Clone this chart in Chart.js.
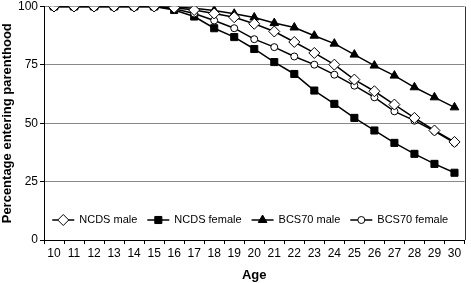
<!DOCTYPE html>
<html>
<head>
<meta charset="utf-8">
<script src="https://cdn.jsdelivr.net/npm/chart.js@4.4.1/dist/chart.umd.min.js"></script>
<style>
  html, body { margin: 0; padding: 0; background: #fff; }
  #wrap { width: 471px; height: 283px; }
</style>
</head>
<body>
<div id="wrap"><canvas id="chart"></canvas></div>
<script>
const ages = ['10', '11', '12', '13', '14', '15', '16', '17', '18', '19', '20',
  '21', '22', '23', '24', '25', '26', '27', '28', '29', '30']

const ncdsMale = [100, 100, 100, 100, 100, 100, 99.5, 98.5, 97, 95.4, 92.6,
  89.3, 84.8, 80.1, 75.1, 68.7, 63.7, 58, 52.3, 46.9, 42]
const ncdsFemale = [100, 100, 100, 100, 100, 100, 98.5, 95.7, 90.7, 86.9, 81.8,
  76.2, 71.1, 64, 58.3, 52.3, 46.9, 41.6, 36.9, 32.6, 28.8]
const bcsMale = [100, 100, 100, 100, 100, 100, 99.8, 99.2, 98.3, 96.9, 95.3,
  92.9, 91, 87.5, 84.1, 79.4, 74.7, 70.4, 65.4, 61.1, 56.8]
const bcsFemale = [100, 100, 100, 100, 100, 100, 99, 97, 94, 90.7, 86,
  82.6, 78.6, 75.1, 70.8, 66.1, 61.1, 55.1, 51.1, 46.6, 41.6]

const yTicks = [0, 25, 50, 75, 100]

const FONT = 'Liberation Sans, Arial, sans-serif'

// little helper so every series looks the same apart from the marker
const series = (label, data, style, radius, fill, order) => ({
  label: label,
  data: data,
  borderColor: '#000',
  borderWidth: 1.5,
  pointStyle: style,
  pointRadius: radius,
  pointHoverRadius: radius,
  pointBackgroundColor: fill,
  pointBorderColor: '#000',
  pointBorderWidth: 1,
  tension: 0,
  order: order
})

// legend sits inside the plot, above the x axis, like the original
const insideLegend = {
  id: 'insideLegend',
  afterDraw(chart) {
    const ctx = chart.ctx
    const area = chart.chartArea
    ctx.save()
    ctx.font = '11px ' + FONT
    const sample = 22, gap = 5, between = 10
    const items = chart.data.datasets.map(ds => ({ ds: ds, w: ctx.measureText(ds.label).width }))
    let total = 0
    items.forEach((it, i) => { total += sample + gap + it.w + (i ? between : 0) })
    let x = (area.left + area.right) / 2 - total / 2 - 4
    const y = area.bottom - 20
    items.forEach(it => {
      ctx.strokeStyle = '#000'
      ctx.lineWidth = 1.5
      ctx.beginPath()
      ctx.moveTo(x, y)
      ctx.lineTo(x + sample, y)
      ctx.stroke()
      ctx.fillStyle = it.ds.pointBackgroundColor
      ctx.strokeStyle = '#000'
      ctx.lineWidth = 1
      Chart.helpers.drawPoint(ctx, {
        pointStyle: it.ds.pointStyle,
        radius: it.ds.pointRadius,
        borderWidth: 1
      }, x + sample / 2, y)
      ctx.fillStyle = '#000'
      ctx.textBaseline = 'middle'
      ctx.textAlign = 'left'
      ctx.fillText(it.ds.label, x + sample + gap, y)
      x += sample + gap + it.w + between
    })
    // right edge of plot frame
    ctx.strokeStyle = '#333'
    ctx.lineWidth = 1
    ctx.beginPath()
    ctx.moveTo(Math.round(area.right) + 0.5, area.top)
    ctx.lineTo(Math.round(area.right) + 0.5, area.bottom)
    ctx.stroke()
    ctx.restore()
  }
}

new Chart(document.getElementById('chart'), {
  type: 'line',
  data: {
    labels: ages,
    datasets: [
      series('NCDS male', ncdsMale, 'rectRot', 5.5, '#fff', 1),
      series('NCDS female', ncdsFemale, 'rect', 5, '#000', 3),
      series('BCS70 male', bcsMale, 'triangle', 5, '#000', 4),
      series('BCS70 female', bcsFemale, 'circle', 3.5, '#fff', 2)
    ]
  },
  options: {
    responsive: true,
    maintainAspectRatio: false,
    animation: false,
    layout: { padding: { top: 5, right: 3, left: 0, bottom: 0 } },
    plugins: {
      legend: { display: false },
      tooltip: { enabled: false }
    },
    scales: {
      x: {
        offset: true,
        grid: { offset: true, drawOnChartArea: false, color: '#000', tickLength: 4 },
        border: { color: '#000', width: 1 },
        ticks: { color: '#000', font: { family: FONT, size: 12 }, padding: 2, maxRotation: 0, autoSkip: false },
        title: { display: true, text: 'Age', color: '#000', font: { family: FONT, size: 13, weight: 'bold' }, padding: { top: 1, bottom: 0 } },
        afterFit(scale) { scale.height = 43 }
      },
      y: {
        min: 0,
        max: 100,
        afterBuildTicks(scale) { scale.ticks = yTicks.map(v => ({ value: v })) },
        grid: { color: '#888', tickColor: '#000', tickLength: 4 },
        border: { color: '#000', width: 1 },
        ticks: { color: '#000', font: { family: FONT, size: 12 }, padding: 2 },
        title: { display: true, text: 'Percentage entering parenthood', color: '#000', font: { family: FONT, size: 13, weight: 'bold' }, padding: { top: 0, bottom: 1 } },
        afterFit(scale) { scale.width = 44; scale.paddingTop = 0; scale.paddingBottom = 0 }
      }
    }
  },
  plugins: [insideLegend]
})
</script>
</body>
</html>
